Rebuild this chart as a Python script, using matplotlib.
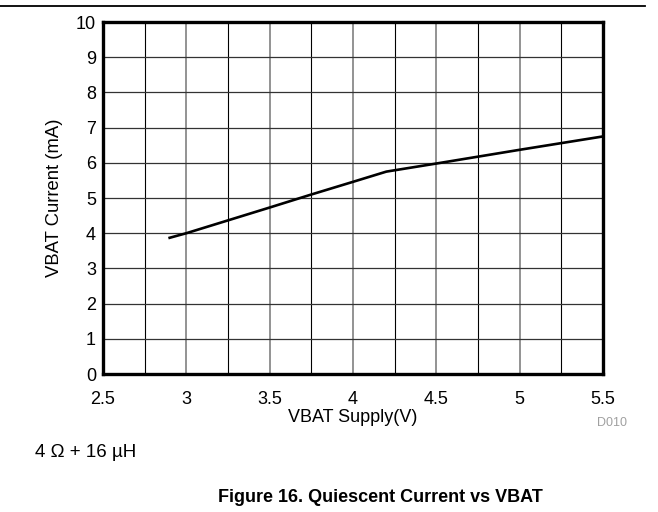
import matplotlib
matplotlib.use("Agg")
import matplotlib.pyplot as plt
from matplotlib.lines import Line2D
from matplotlib.ticker import MultipleLocator

plt.rcParams['font.family'] = ['Liberation Sans', 'DejaVu Sans']

# data
vbat = [2.9, 3.0, 3.5, 3.75, 4.0, 4.2, 4.5, 5.0, 5.5]
current = [3.87, 4.0, 4.73, 5.1, 5.46, 5.75, 5.98, 6.37, 6.75]
xticks = [2.5, 3, 3.5, 4, 4.5, 5, 5.5]
xticklabels = ["2.5", "3", "3.5", "4", "4.5", "5", "5.5"]
yticks = list(range(0, 11))

fig = plt.figure(figsize=(6.58, 5.12), dpi=100)
ax = fig.add_axes([0.1565, 0.2695, 0.760, 0.6875])

ax.plot(vbat, current, color="black", lw=1.9, zorder=3)

ax.set_xlim(2.5, 5.5)
ax.set_ylim(0, 10)
ax.set_xticks(xticks)
ax.set_xticklabels(xticklabels)
ax.set_yticks(yticks)
ax.xaxis.set_minor_locator(MultipleLocator(0.25))
ax.tick_params(which="both", length=0, labelsize=13)
ax.tick_params(axis="x", pad=12)
ax.tick_params(axis="y", pad=5)

# grey lines on major x, black on minor x and on every y
ax.grid(which="major", axis="x", color="#808080", lw=1.2)
ax.grid(which="minor", axis="x", color="black", lw=0.8)
ax.grid(which="major", axis="y", color="#333333", lw=0.9)

for s in ax.spines.values():
    s.set_linewidth(2.4)
    s.set_zorder(4)

ax.set_xlabel("VBAT Supply(V)", fontsize=13, labelpad=1)
ax.set_ylabel("VBAT Current (mA)", fontsize=13.3, labelpad=9)

fig.add_artist(Line2D([0, 0.98], [0.988, 0.988], color="black", lw=1.3))
fig.text(0.93, 0.173, "D010", color="#a0a0a0", fontsize=9, ha="center", va="center")
fig.text(0.053, 0.117, "4 \u03a9 + 16 \u00b5H", fontsize=13.5, ha="left", va="center")
fig.text(0.578, 0.029, "Figure 16. Quiescent Current vs VBAT", fontsize=13,
         fontweight="bold", ha="center", va="center")

fig.savefig("out.png", dpi=100)
